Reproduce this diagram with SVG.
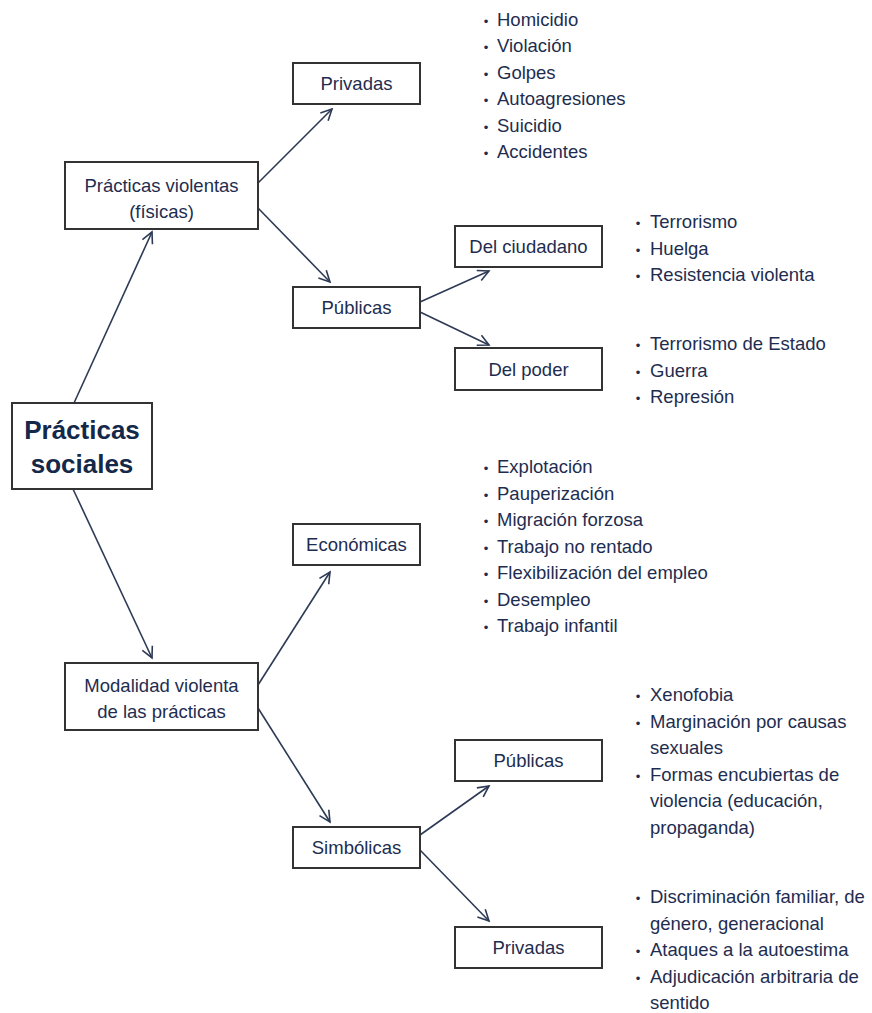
<svg xmlns="http://www.w3.org/2000/svg" width="872" height="1013" viewBox="0 0 872 1013">
<style>
.bx{fill:#fff;stroke:#333;stroke-width:2}
.t{font-family:"Liberation Sans",Arial,sans-serif;font-size:18.5px;fill:#1e2d4f}
.c{text-anchor:middle}
.big{font-family:"Liberation Sans",Arial,sans-serif;font-size:26px;font-weight:bold;fill:#14284a;text-anchor:middle}
.b{font-size:13px;text-anchor:middle}
.cn line{stroke:#2d3a55;stroke-width:1.6;marker-end:url(#ah)}
</style>
<defs>
<marker id="ah" markerUnits="userSpaceOnUse" markerWidth="14" markerHeight="14" viewBox="-12 -7 14 14" refX="0" refY="0" orient="auto">
<path d="M-11,-5.5 L0,0 L-11,5.5" fill="none" stroke="#2d3a55" stroke-width="1.6"/>
</marker>
</defs>
<rect width="872" height="1013" fill="#fff"/>
<g id="connectors" class="cn">
<line x1="74" y1="403" x2="152" y2="232"/>
<line x1="73" y1="489" x2="152" y2="658"/>
<line x1="258" y1="183" x2="332" y2="109"/>
<line x1="258" y1="208" x2="330" y2="282"/>
<line x1="420" y1="302" x2="489" y2="271"/>
<line x1="420" y1="312" x2="489" y2="345"/>
<line x1="258" y1="685" x2="330" y2="572"/>
<line x1="258" y1="708" x2="330" y2="822"/>
<line x1="420" y1="835" x2="489" y2="786"/>
<line x1="420" y1="850" x2="489" y2="921"/>
</g>
<g id="practicas-sociales">
<rect class="bx" x="12" y="403" width="140" height="86"/>
<text class="big" x="82" y="439">Prácticas</text>
<text class="big" x="82" y="473">sociales</text>
</g>
<g id="practicas-violentas">
<rect class="bx" x="65" y="162" width="193" height="67"/>
<text class="t c" x="161.5" y="192">Prácticas violentas</text>
<text class="t c" x="161.5" y="218">(físicas)</text>
</g>
<g id="privadas-1">
<rect class="bx" x="293" y="63" width="127" height="41"/>
<text class="t c" x="356.5" y="90">Privadas</text>
</g>
<g id="publicas-1">
<rect class="bx" x="293" y="287" width="127" height="41"/>
<text class="t c" x="356.5" y="314">Públicas</text>
</g>
<g id="del-ciudadano">
<rect class="bx" x="455" y="226" width="147" height="41"/>
<text class="t c" x="528.5" y="253">Del ciudadano</text>
</g>
<g id="del-poder">
<rect class="bx" x="455" y="348" width="147" height="42"/>
<text class="t c" x="528.5" y="376">Del poder</text>
</g>
<g id="modalidad">
<rect class="bx" x="65" y="663" width="193" height="67"/>
<text class="t c" x="161.5" y="692">Modalidad violenta</text>
<text class="t c" x="161.5" y="718">de las prácticas</text>
</g>
<g id="economicas">
<rect class="bx" x="293" y="524" width="127" height="41"/>
<text class="t c" x="356.5" y="551">Económicas</text>
</g>
<g id="simbolicas">
<rect class="bx" x="293" y="827" width="127" height="41"/>
<text class="t c" x="356.5" y="854">Simbólicas</text>
</g>
<g id="publicas-2">
<rect class="bx" x="455" y="740" width="147" height="41"/>
<text class="t c" x="528.5" y="767">Públicas</text>
</g>
<g id="privadas-2">
<rect class="bx" x="455" y="927" width="147" height="41"/>
<text class="t c" x="528.5" y="954">Privadas</text>
</g>
<g id="lista-privadas" class="t">
<text y="25.5"><tspan class="b" x="486">•</tspan><tspan x="497">Homicidio</tspan></text>
<text y="52"><tspan class="b" x="486">•</tspan><tspan x="497">Violación</tspan></text>
<text y="78.5"><tspan class="b" x="486">•</tspan><tspan x="497">Golpes</tspan></text>
<text y="105"><tspan class="b" x="486">•</tspan><tspan x="497">Autoagresiones</tspan></text>
<text y="131.5"><tspan class="b" x="486">•</tspan><tspan x="497">Suicidio</tspan></text>
<text y="158"><tspan class="b" x="486">•</tspan><tspan x="497">Accidentes</tspan></text>
</g>
<g id="lista-ciudadano" class="t">
<text y="228"><tspan class="b" x="638">•</tspan><tspan x="650">Terrorismo</tspan></text>
<text y="254.5"><tspan class="b" x="638">•</tspan><tspan x="650">Huelga</tspan></text>
<text y="281"><tspan class="b" x="638">•</tspan><tspan x="650">Resistencia violenta</tspan></text>
</g>
<g id="lista-poder" class="t">
<text y="350"><tspan class="b" x="638">•</tspan><tspan x="650">Terrorismo de Estado</tspan></text>
<text y="376.5"><tspan class="b" x="638">•</tspan><tspan x="650">Guerra</tspan></text>
<text y="403"><tspan class="b" x="638">•</tspan><tspan x="650">Represión</tspan></text>
</g>
<g id="lista-economicas" class="t">
<text y="473"><tspan class="b" x="486">•</tspan><tspan x="497">Explotación</tspan></text>
<text y="499.5"><tspan class="b" x="486">•</tspan><tspan x="497">Pauperización</tspan></text>
<text y="526"><tspan class="b" x="486">•</tspan><tspan x="497">Migración forzosa</tspan></text>
<text y="552.5"><tspan class="b" x="486">•</tspan><tspan x="497">Trabajo no rentado</tspan></text>
<text y="579"><tspan class="b" x="486">•</tspan><tspan x="497">Flexibilización del empleo</tspan></text>
<text y="605.5"><tspan class="b" x="486">•</tspan><tspan x="497">Desempleo</tspan></text>
<text y="632"><tspan class="b" x="486">•</tspan><tspan x="497">Trabajo infantil</tspan></text>
</g>
<g id="lista-simb-publicas" class="t">
<text y="701"><tspan class="b" x="638">•</tspan><tspan x="650">Xenofobia</tspan></text>
<text y="727.5"><tspan class="b" x="638">•</tspan><tspan x="650">Marginación por causas</tspan></text>
<text x="650" y="754">sexuales</text>
<text y="780.5"><tspan class="b" x="638">•</tspan><tspan x="650">Formas encubiertas de</tspan></text>
<text x="650" y="807">violencia (educación,</text>
<text x="650" y="833.5">propaganda)</text>
</g>
<g id="lista-simb-privadas" class="t">
<text y="903"><tspan class="b" x="638">•</tspan><tspan x="650">Discriminación familiar, de</tspan></text>
<text x="650" y="929.5">género, generacional</text>
<text y="956"><tspan class="b" x="638">•</tspan><tspan x="650">Ataques a la autoestima</tspan></text>
<text y="982.5"><tspan class="b" x="638">•</tspan><tspan x="650">Adjudicación arbitraria de</tspan></text>
<text x="650" y="1009">sentido</text>
</g>
</svg>
